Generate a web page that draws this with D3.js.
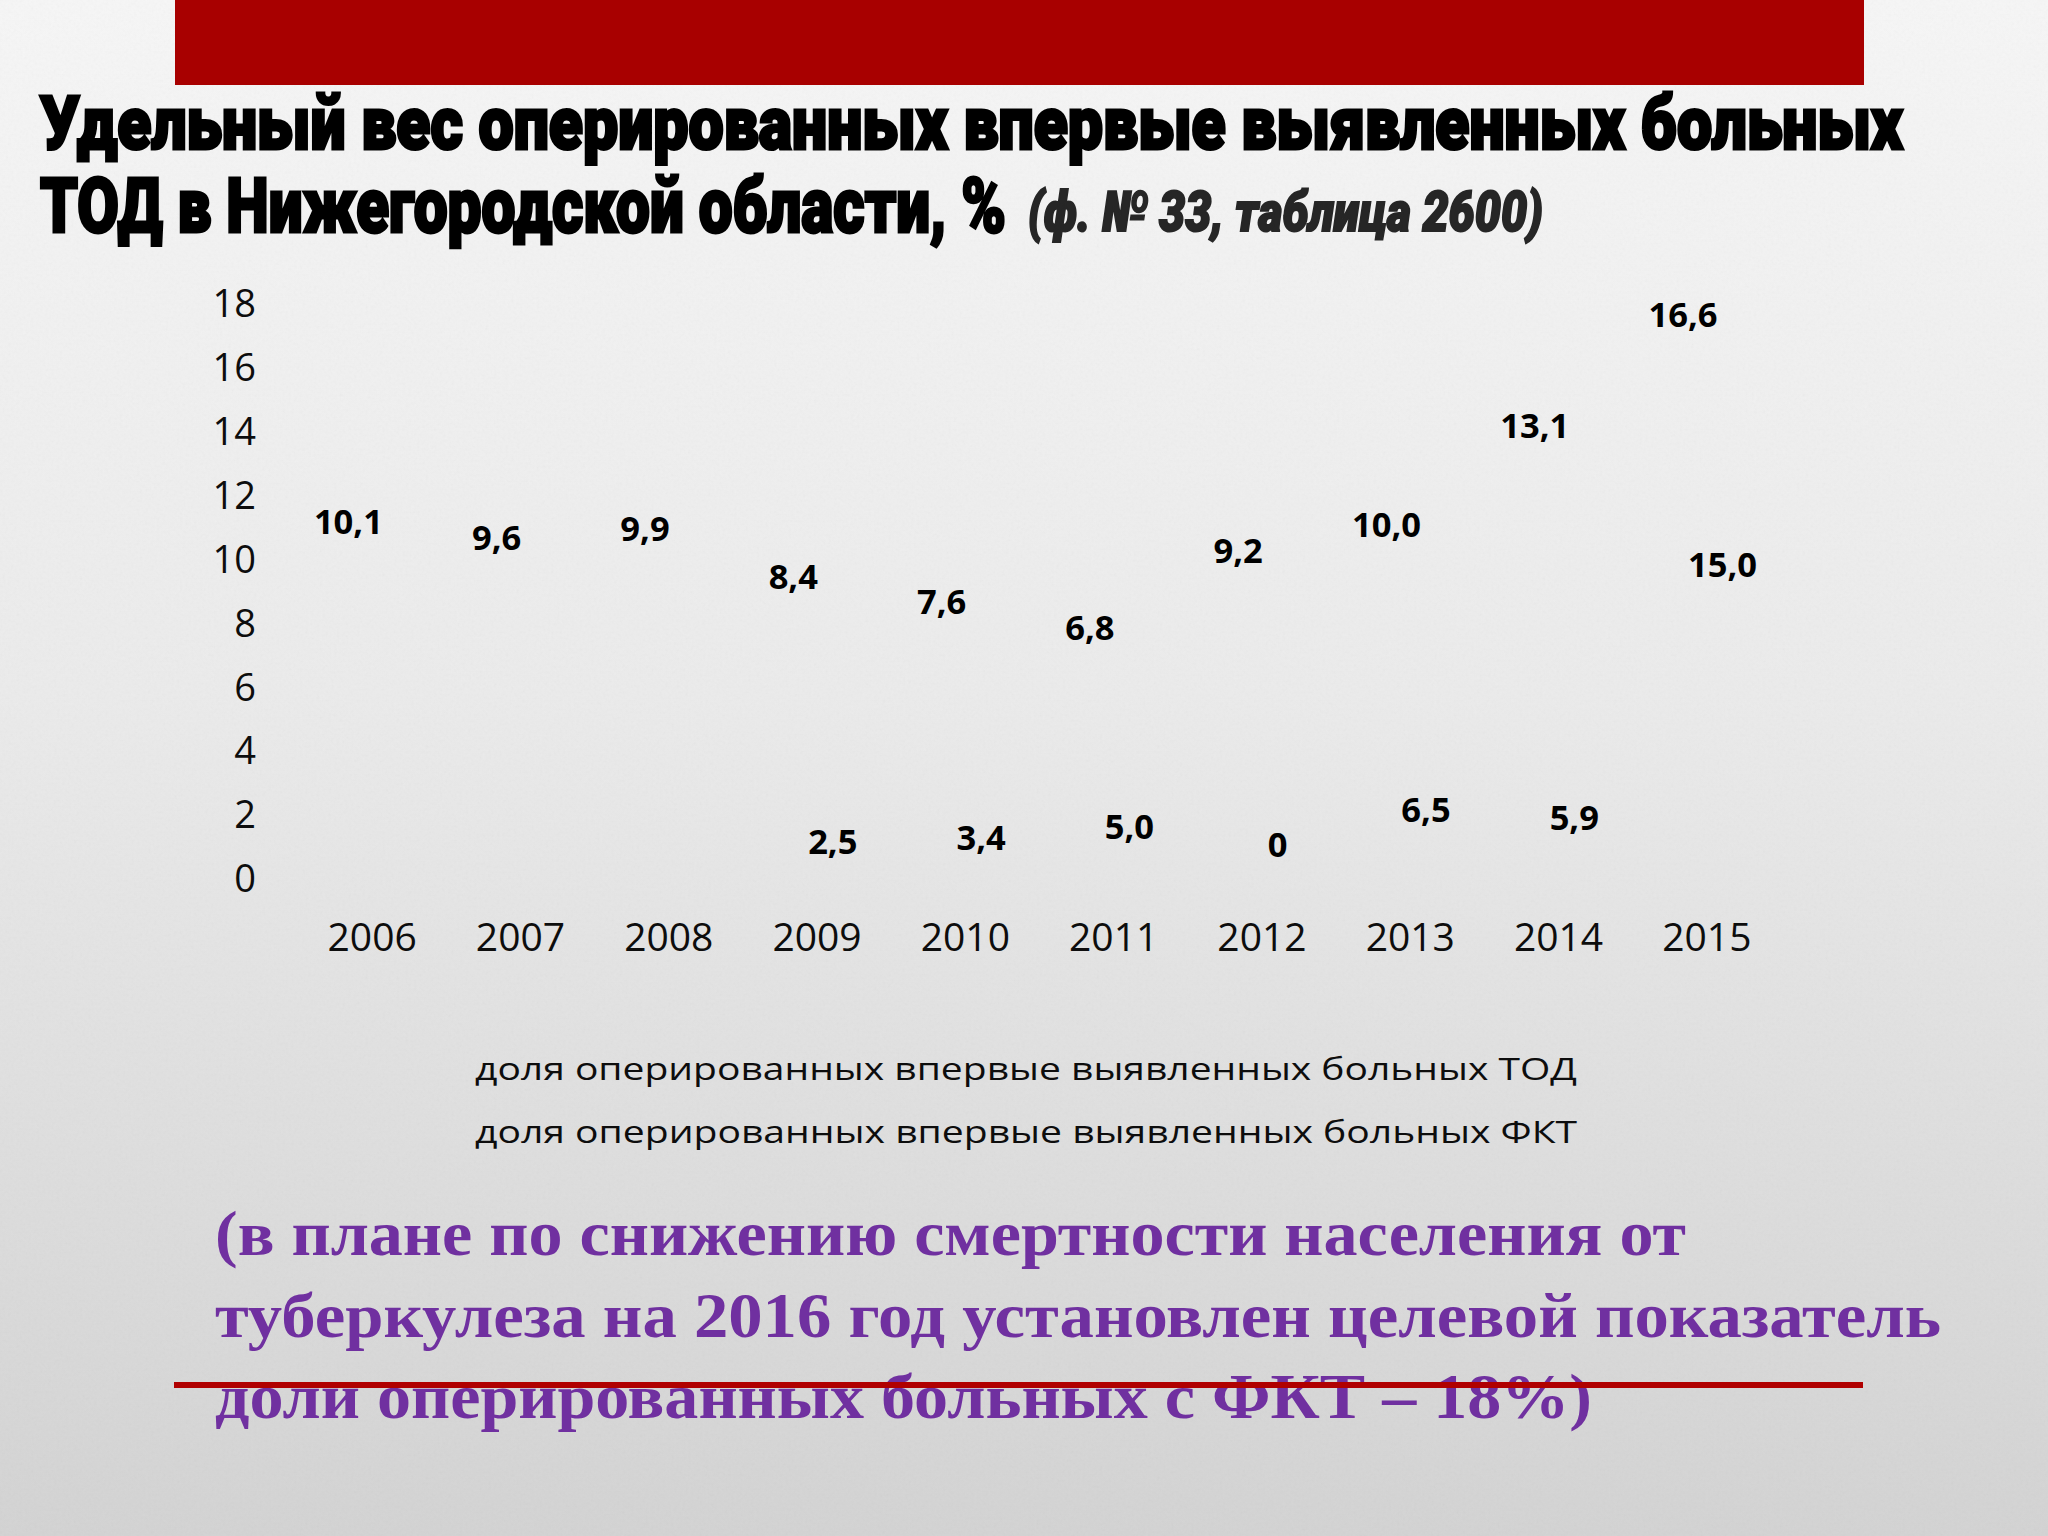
<!DOCTYPE html>
<meta charset="utf-8">
<style>
  body { margin: 0; }
  svg { display: block; }
  .tick text { font-family: "Open Sans", sans-serif; fill: #0d0d0d; }
</style>
<body>
<script src="https://d3js.org/d3.v7.min.js"></script>
<script>
  // data
  var years = ["2006", "2007", "2008", "2009", "2010", "2011", "2012", "2013", "2014", "2015"];
  var tod = [10.1, 9.6, 9.9, 8.4, 7.6, 6.8, 9.2, 10.0, 13.1, 16.6];
  var fkt = [null, null, null, 2.5, 3.4, 5.0, 0, 6.5, 5.9, 15.0];
  var yTicks = [0, 2, 4, 6, 8, 10, 12, 14, 16, 18];
  var seriesNames = [
    "доля оперированных впервые выявленных больных ТОД",
    "доля оперированных впервые выявленных больных ФКТ"
  ];
  var titleLines = [
    "Удельный вес оперированных впервые выявленных больных",
    "ТОД в Нижегородской области, %"
  ];
  var titleNote = "(ф. № 33, таблица 2600)";
  var noteLines = [
    "(в плане по снижению смертности населения от",
    "туберкулеза на 2016 год установлен целевой показатель",
    "доли оперированных больных с ФКТ – 18%)"
  ];

  var width = 2048,
      height = 1536,
      plotLeft = 298, plotRight = 1781, plotTop = 303, plotBottom = 878;

  var svg = d3.select("body").append("svg")
    .attr("width", width)
    .attr("height", height);

  var defs = svg.append("defs");
  var bg = defs.append("linearGradient")
    .attr("id", "bg").attr("x1", 0).attr("y1", 0).attr("x2", 0).attr("y2", 1);
  bg.append("stop").attr("offset", "0%").attr("stop-color", "#f6f6f6");
  bg.append("stop").attr("offset", "45%").attr("stop-color", "#ebebeb");
  bg.append("stop").attr("offset", "100%").attr("stop-color", "#d3d3d3");
  var noise = defs.append("filter").attr("id", "noise");
  noise.append("feTurbulence").attr("type", "fractalNoise")
    .attr("baseFrequency", 0.35).attr("numOctaves", 2).attr("seed", 3);
  noise.append("feColorMatrix").attr("type", "saturate").attr("values", 0);

  svg.append("rect").attr("width", width).attr("height", height).attr("fill", "url(#bg)");
  svg.append("rect").attr("width", width).attr("height", height)
    .attr("filter", "url(#noise)").attr("opacity", 0.06);

  // red band at the top
  svg.append("rect")
    .attr("x", 175).attr("y", 0).attr("width", 1689).attr("height", 85)
    .attr("fill", "#a80000");

  // title (Impact-like: heavy face squeezed to the slide's widths)
  var titleFont = "Roboto, 'DejaVu Sans', sans-serif";
  svg.append("text")
    .attr("x", 40).attr("y", 149)
    .attr("textLength", 1863).attr("lengthAdjust", "spacingAndGlyphs")
    .style("font-family", titleFont).style("font-weight", 900).style("font-size", "74px")
    .attr("fill", "#000").attr("stroke", "#000").attr("stroke-width", 3)
    .text(titleLines[0]);
  svg.append("text")
    .attr("x", 40).attr("y", 232)
    .attr("textLength", 966).attr("lengthAdjust", "spacingAndGlyphs")
    .style("font-family", titleFont).style("font-weight", 900).style("font-size", "76px")
    .attr("fill", "#000").attr("stroke", "#000").attr("stroke-width", 3)
    .text(titleLines[1]);
  svg.append("text")
    .attr("x", 1028).attr("y", 231)
    .attr("textLength", 515).attr("lengthAdjust", "spacingAndGlyphs")
    .style("font-family", titleFont).style("font-weight", 900).style("font-style", "italic")
    .style("font-size", "56px")
    .attr("fill", "#262626").attr("stroke", "#262626").attr("stroke-width", 2)
    .text(titleNote);

  // scales
  var x = d3.scaleBand().domain(years).range([plotLeft, plotRight]);
  var x1 = d3.scaleBand().domain(seriesNames).range([-43.5, 35.5]);
  var y = d3.scaleLinear().domain([0, 18]).range([plotBottom, plotTop]);
  // hidden secondary axis of the second series (its labels sit low on the slide)
  var y2 = d3.scalePow().exponent(2.5).domain([0, 20]).range([plotBottom, plotTop]);

  var yAxis = d3.axisLeft(y).tickValues(yTicks).tickSize(0).tickPadding(42);
  svg.append("g")
    .attr("transform", "translate(" + plotLeft + ",0)")
    .call(yAxis)
    .call(g => g.select(".domain").remove())
    .selectAll("text")
    .attr("dy", "0.36em")
    .style("font-size", "38px");

  var xAxis = d3.axisBottom(x).tickSize(0).tickPadding(45);
  svg.append("g")
    .attr("transform", "translate(0," + plotBottom + ")")
    .call(xAxis)
    .call(g => g.select(".domain").remove())
    .selectAll("text")
    .style("font-size", "39px");

  function fmt(v) {
    return v === 0 ? "0" : v.toFixed(1).replace(".", ",");
  }

  var series = [
    { name: seriesNames[0], values: tod, yy: y },
    { name: seriesNames[1], values: fkt, yy: y2 }
  ];

  series.forEach(function(s) {
    var pts = years.map(function(yr, i) { return { year: yr, v: s.values[i] }; })
      .filter(function(d) { return d.v !== null; });
    svg.append("g").selectAll("text")
      .data(pts)
      .join("text")
      .attr("x", d => x(d.year) + x.bandwidth() / 2 + x1(s.name) + x1.bandwidth() / 2)
      .attr("y", d => s.yy(d.v) - 33.5)
      .attr("dy", "0.36em")
      .attr("text-anchor", "middle")
      .style("font-family", "'Open Sans', sans-serif")
      .style("font-weight", 700)
      .style("font-size", "34.5px")
      .attr("fill", "#000")
      .text(d => fmt(d.v));
  });

  // legend (text only, the bars are not visible on the slide)
  svg.append("g").selectAll("text")
    .data(seriesNames)
    .join("text")
    .attr("x", 475)
    .attr("y", (d, i) => 1080 + i * 63)
    .attr("textLength", 1102).attr("lengthAdjust", "spacingAndGlyphs")
    .style("font-family", "'Open Sans', sans-serif")
    .style("font-size", "31px")
    .attr("fill", "#0d0d0d")
    .text(d => d);

  // purple note
  var noteLen = [1471, 1726, 1377];
  svg.append("g").selectAll("text")
    .data(noteLines)
    .join("text")
    .attr("x", 215)
    .attr("y", (d, i) => 1255 + i * 81.5)
    .attr("textLength", (d, i) => noteLen[i]).attr("lengthAdjust", "spacingAndGlyphs")
    .style("font-family", "'Liberation Serif', 'Times New Roman', serif")
    .style("font-weight", 700)
    .style("font-size", "64px")
    .attr("fill", "#7030a0")
    .text(d => d);

  // red rule crossing the last line
  svg.append("line")
    .attr("x1", 174).attr("x2", 1863)
    .attr("y1", 1385).attr("y2", 1385)
    .attr("stroke", "#b00000").attr("stroke-width", 6);
</script>
</body>
